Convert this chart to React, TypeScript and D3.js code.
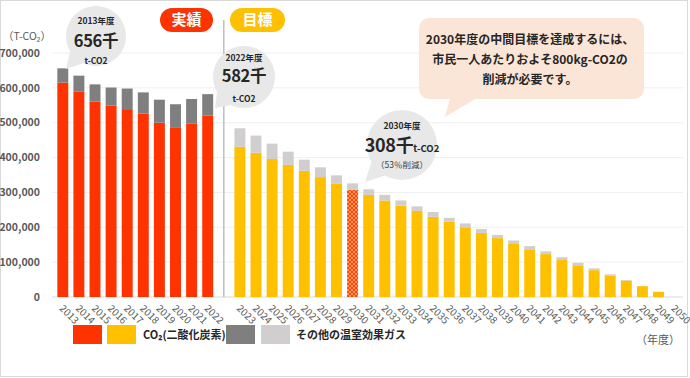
import React from 'react';
import * as d3 from 'd3';

const actualYears = ['2013', '2014', '2015', '2016', '2017', '2018', '2019', '2020', '2021', '2022'];
const actualCO2 = [615, 590, 561, 549, 539, 526, 500, 487, 497, 520];
const actualOther = [41, 45, 49, 52, 59, 61, 66, 66, 71, 62];

const targetYears = ['2023', '2024', '2025', '2026', '2027', '2028', '2029', '2030', '2031', '2032', '2033', '2034', '2035', '2036', '2037', '2038', '2039', '2040', '2041', '2042', '2043', '2044', '2045', '2046', '2047', '2048', '2049', '2050'];
const targetCO2 = [431, 414, 396, 379, 362, 344, 326, 308, 293, 277, 262, 247, 230, 216, 200, 184, 169, 154, 137, 123, 106, 91, 77, 62, 47, 31, 15, 0];
const targetOther = [53, 49, 44, 38, 32, 28, 23, 18, 16, 16, 15, 13, 14, 11, 11, 11, 9, 8, 9, 8, 8, 7, 5, 3, 2, 0, 0, 0];

const yTicks = [0, 100000, 200000, 300000, 400000, 500000, 600000, 700000];
const calloutLines = ['2030年度の中間目標を達成するには、', '市民一人あたりおよそ800kg-CO2の', '削減が必要です。'];

const FONT = "'Noto Sans CJK JP', 'Noto Sans', sans-serif";

type Row = { year: string; co2: number; other: number; kind: 'actual' | 'target' };

function Bubble({ cx, cy, r, tx, ty, spread }: { cx: number; cy: number; r: number; tx: number; ty: number; spread: number }) {
  const a = Math.atan2(ty - cy, tx - cx);
  const p1 = [cx + r * Math.cos(a - spread), cy + r * Math.sin(a - spread)];
  const p2 = [cx + r * Math.cos(a + spread), cy + r * Math.sin(a + spread)];
  return (
    <g>
      <circle cx={cx} cy={cy} r={r} fill="#E8E8E8" />
      <path d={`M${p1[0]},${p1[1]}L${tx},${ty}L${p2[0]},${p2[1]}Z`} fill="#E8E8E8" />
    </g>
  );
}

export default function App() {
  const W = 690;
  const H = 378;
  const rows: Row[] = [
    ...actualYears.map((yr, i) => ({ year: yr, co2: actualCO2[i] * 1000, other: actualOther[i] * 1000, kind: 'actual' as const })),
    ...targetYears.map((yr, i) => ({ year: yr, co2: targetCO2[i] * 1000, other: targetOther[i] * 1000, kind: 'target' as const })),
  ];
  const slots = [...actualYears, 'gap', ...targetYears];
  const x = d3.scaleBand<string>().domain(slots).range([54.75, 682.65]).paddingInner(0.32).paddingOuter(0.16);
  const y = d3.scaleLinear().domain([0, 700000]).range([297, 53]);
  const stack = d3.stack<Row>().keys(['co2', 'other']);
  const series = stack(rows);
  const fmt = d3.format(',');
  const bw = x.bandwidth();
  const sepX = (x('gap') as number) + bw / 2;

  const colorFor = (key: string, d: Row) => {
    if (key === 'co2') {
      if (d.year === '2030') return 'url(#hatch)';
      return d.kind === 'actual' ? '#FF3300' : '#FFC000';
    }
    return d.kind === 'actual' ? '#7F7F7F' : '#D0CECE';
  };

  return (
    <svg width={W} height={H} style={{ position: 'absolute', left: 0, top: 0, fontFamily: FONT }}>
      <defs>
        <pattern id="hatch" width="4" height="4" patternUnits="userSpaceOnUse">
          <rect width="4" height="4" fill="#FF9A50" />
          <path d="M0,0L4,4M4,0L0,4" stroke="#FF4010" strokeWidth="1" />
        </pattern>
      </defs>
      <rect x={0} y={0} width={W} height={H} fill="#fff" />
      <rect x={0.5} y={0.5} width={687} height={376} fill="none" stroke="#D9D9D9" />

      {/* gridlines */}
      {yTicks.map((t) => (
        <line key={t} x1={52} x2={683} y1={y(t)} y2={y(t)} stroke={t === 0 ? '#D9D9D9' : '#EFEFEF'} strokeWidth={1} />
      ))}
      {/* y tick labels */}
      {yTicks.map((t) => (
        <text key={'l' + t} x={40} y={y(t)} dy="0.35em" textAnchor="end" fontSize={10.5} fontWeight="bold" fill="#595959">
          {fmt(t)}
        </text>
      ))}
      <text x={3} y={36} dy="0.35em" fontSize={10.5} fill="#595959">（T-CO₂）</text>

      {/* separator */}
      <line x1={sepX} x2={sepX} y1={20} y2={297} stroke="#BFBFBF" strokeWidth={1.5} />

      {/* bars */}
      {series.map((s) =>
        s.map((d, i) => {
          const row = d.data;
          const h = y(d[0]) - y(d[1]);
          if (h <= 0) return null;
          return (
            <rect key={s.key + i} x={x(row.year)} y={y(d[1])} width={bw} height={h} fill={colorFor(s.key, row)} />
          );
        })
      )}

      {/* x labels */}
      {rows.map((r) => {
        const cx = (x(r.year) as number) + bw / 2;
        const ax = cx - 4;
        const ay = 309;
        return (
          <text key={'x' + r.year} x={ax} y={ay} transform={`rotate(45,${ax},${ay})`} fontSize={10} fill="#595959">
            {r.year}
          </text>
        );
      })}

      {/* pills */}
      <rect x={160} y={8} width={53} height={24} rx={12} fill="#FF3300" />
      <text x={186.5} y={20} dy="0.36em" textAnchor="middle" fontSize={15} fontWeight="bold" fill="#fff">実績</text>
      <rect x={230} y={8} width={55} height={24} rx={12} fill="#FFC000" />
      <text x={257.5} y={20} dy="0.36em" textAnchor="middle" fontSize={15} fontWeight="bold" fill="#fff">目標</text>

      {/* bubbles */}
      <Bubble cx={96} cy={36} r={30} tx={66} ty={69} spread={0.3} />
      <text x={96} y={21.5} dy="0.35em" textAnchor="middle" fontSize={8.5} fontWeight="bold" fill="#262626">2013年度</text>
      <text x={96} y={41} dy="0.35em" textAnchor="middle" fontSize={16.5} fontWeight="bold" fill="#262626" letterSpacing={-0.3}>656千</text>
      <text x={96} y={61} dy="0.35em" textAnchor="middle" fontSize={8.5} fontWeight="bold" fill="#262626">t-CO2</text>

      <Bubble cx={244} cy={77} r={31} tx={215} ty={108} spread={0.3} />
      <text x={244} y={58} dy="0.35em" textAnchor="middle" fontSize={8.5} fontWeight="bold" fill="#262626">2022年度</text>
      <text x={244} y={76.5} dy="0.35em" textAnchor="middle" fontSize={16.5} fontWeight="bold" fill="#262626" letterSpacing={-0.3}>582千</text>
      <text x={244} y={99} dy="0.35em" textAnchor="middle" fontSize={8.5} fontWeight="bold" fill="#262626">t-CO2</text>

      <Bubble cx={402} cy={145} r={35} tx={365} ty={182} spread={0.28} />
      <text x={402} y={126} dy="0.35em" textAnchor="middle" fontSize={8.5} fontWeight="bold" fill="#262626">2030年度</text>
      <text x={402} y={146.5} dy="0.35em" textAnchor="middle" fill="#262626">
        <tspan fontSize={18} fontWeight="bold" letterSpacing={-0.3}>308千</tspan>
        <tspan fontSize={9.5} fontWeight="bold">t-CO2</tspan>
      </text>
      <text x={402} y={165} dy="0.35em" textAnchor="middle" fontSize={8.5} fill="#404040">（53％削減）</text>

      {/* callout */}
      <rect x={419} y={18} width={225} height={81} rx={10} fill="#FBE5D6" />
      <path d="M450,98L477,98L445,117Z" fill="#FBE5D6" />
      {calloutLines.map((t, i) => (
        <text key={t} x={530} y={40 + i * 20} dy="0.35em" textAnchor="middle" fontSize={12} fontWeight="bold" fill="#262626">
          {t}
        </text>
      ))}

      {/* legend */}
      <rect x={73} y={325} width={29} height={19} fill="#FF3300" />
      <rect x={107} y={325} width={29} height={19} fill="#FFC000" />
      <text x={143} y={335} dy="0.35em" fontSize={11} fontWeight="bold" fill="#262626">CO₂(二酸化炭素)</text>
      <rect x={226} y={325} width={29} height={19} fill="#7F7F7F" />
      <rect x={261} y={325} width={29} height={19} fill="#D0CECE" />
      <text x={296} y={335} dy="0.35em" fontSize={11} fontWeight="bold" fill="#262626">その他の温室効果ガス</text>

      <text x={680} y={340} dy="0.35em" textAnchor="end" fontSize={11} fill="#595959">（年度）</text>
    </svg>
  );
}
